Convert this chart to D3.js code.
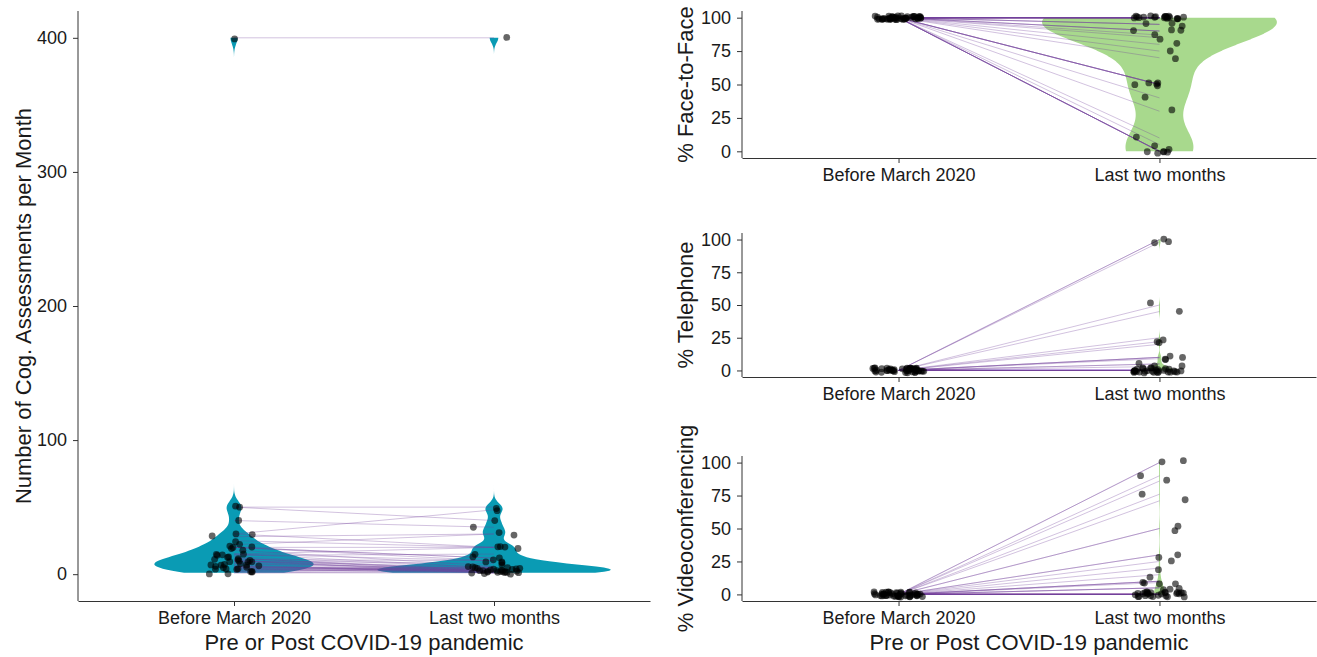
<!DOCTYPE html>
<html>
<head>
<meta charset="utf-8">
<script src="https://cdn.jsdelivr.net/npm/d3@7"></script>
<style>
  body { margin: 0; background: #fff; }
  svg { display: block; }
  text { font-family: "Liberation Sans", Arial, sans-serif; fill: #1a1a1a; }
</style>
</head>
<body>
<svg id="chart" width="1317" height="657"></svg>
<script>
// groups on the x axis
const groups = ['Before March 2020', 'Last two months'];

// cognitive assessments per month, one entry per clinician (paired)
const beforeCount = [400, 50, 50, 40, 30, 30, 28, 25, 22, 20, 20, 20, 20, 18, 15, 15, 15, 14, 13, 12, 12, 11, 10, 10, 10, 10, 10, 9, 8, 8, 7, 6, 6, 6, 5, 5, 5, 4, 4, 4, 3, 3, 2, 2, 1, 1];
const lastCount   = [400, 50, 40, 35, 48, 20, 30, 20, 30, 12, 20, 10, 12, 6, 10, 5, 20, 15, 5, 3, 2, 10, 4, 2, 5, 8, 1, 3, 2, 4, 1, 3, 2, 1, 5, 3, 2, 4, 1, 3, 2, 5, 4, 3, 2, 1];

// % face-to-face
const beforeF2F = [100, 100, 100, 100, 100, 100, 100, 100, 100, 100, 100, 100, 100, 100, 100, 100, 100, 100, 100, 100, 100, 100, 100, 100, 100, 100, 100, 100, 100, 100, 100, 100, 100, 100, 100, 100, 100, 100, 100, 100, 100, 100, 100, 100, 100, 100];
const lastF2F   = [100, 100, 0, 95, 50, 100, 0, 90, 100, 50, 75, 100, 0, 85, 100, 40, 100, 50, 0, 100, 90, 100, 30, 100, 95, 100, 70, 0, 100, 80, 50, 100, 87, 10, 100, 95, 0, 100, 90, 5, 100, 50, 100, 100, 100, 100];

// % telephone
const beforeTel = [0, 0, 0, 0, 0, 0, 0, 0, 0, 0, 0, 0, 0, 0, 0, 0, 0, 0, 0, 0, 0, 0, 0, 0, 0, 0, 0, 0, 0, 0, 0, 0, 0, 0, 0, 0, 0, 0, 0, 0, 0, 0, 0, 0, 0, 0];
const lastTel   = [0, 0, 100, 0, 50, 0, 0, 0, 0, 0, 10, 0, 98, 5, 0, 10, 0, 25, 22, 0, 10, 0, 0, 0, 5, 0, 0, 100, 0, 0, 20, 0, 3, 0, 0, 0, 0, 0, 0, 9, 0, 45, 0, 0, 0, 0];

// % videoconferencing
const beforeVid = [0, 0, 0, 0, 0, 0, 0, 0, 0, 0, 0, 0, 0, 0, 0, 0, 0, 0, 0, 0, 0, 0, 0, 0, 0, 0, 0, 0, 0, 0, 0, 0, 0, 0, 0, 0, 0, 0, 0, 0, 0, 0, 0, 0, 0, 0];
const lastVid   = [0, 0, 0, 5, 0, 0, 100, 10, 0, 50, 15, 0, 0, 10, 0, 50, 0, 25, 76, 0, 0, 0, 71, 0, 0, 0, 30, 0, 0, 20, 30, 0, 10, 90, 0, 5, 100, 0, 9, 86, 0, 5, 0, 0, 0, 0];

const countTicks = [0, 100, 200, 300, 400];
const pctTicks = [0, 25, 50, 75, 100];

const svg = d3.select('#chart');

// R's bw.nrd0
function bwNrd0(v) {
  const s = v.slice().sort(d3.ascending);
  const hi = d3.deviation(v) || 0;
  const iqr = d3.quantileSorted(s, 0.75) - d3.quantileSorted(s, 0.25);
  let lo = Math.min(hi, iqr / 1.34);
  if (!lo) lo = hi || Math.abs(v[0]) || 1;
  return 0.9 * lo * Math.pow(v.length, -0.2);
}

// gaussian kde over the data range (trimmed violin)
function density(v) {
  const bw = bwNrd0(v);
  const [lo, hi] = d3.extent(v);
  const out = [];
  for (let k = 0; k < 512; k++) {
    const t = lo + (hi - lo) * k / 511;
    const d = d3.sum(v, x => Math.exp(-0.5 * ((t - x) / bw) ** 2)) / (v.length * bw * Math.sqrt(2 * Math.PI));
    out.push({ t, d });
  }
  return out;
}

function mulberry32(a) {
  return function () {
    a |= 0; a = a + 0x6D2B79F5 | 0;
    let t = Math.imul(a ^ a >>> 15, 1 | a);
    t = t + Math.imul(t ^ t >>> 7, 61 | t) ^ t;
    return ((t ^ t >>> 14) >>> 0) / 4294967296;
  };
}

function drawPanel(o) {
  const x = d3.scaleLinear().domain([0.4, 2.6]).range([o.left, o.right]);
  const y = d3.scaleLinear().domain(o.domain).range([o.bottom, o.top]);
  const g = svg.append('g');
  const series = [o.before, o.last];

  // violins, scale = "area" across the two groups
  const dens = series.map(density);
  const maxD = d3.max(dens, d => d3.max(d, p => p.d));
  dens.forEach((d, i) => {
    if (d[0].t === d[d.length - 1].t) return; // constant group, nothing to draw
    const c = i + 1;
    const area = d3.area()
      .y(p => y(p.t))
      .x0(p => x(c - 0.45 * p.d / maxD))
      .x1(p => x(c + 0.45 * p.d / maxD));
    g.append('path').datum(d).attr('d', area).attr('fill', o.fill);
  });

  // paired lines
  g.append('g').selectAll('line').data(o.before).join('line')
    .attr('x1', x(1)).attr('y1', d => y(d))
    .attr('x2', x(2)).attr('y2', (d, i) => y(o.last[i]))
    .attr('stroke', '#74409a').attr('stroke-opacity', 0.32).attr('stroke-width', 1);

  // jittered points
  const rnd = mulberry32(o.seed);
  series.forEach((vals, i) => {
    g.append('g').selectAll('circle').data(vals).join('circle')
      .attr('cx', () => x(i + 1 + (rnd() * 2 - 1) * 0.1))
      .attr('cy', d => y(d + (rnd() * 2 - 1) * o.jh))
      .attr('r', 3.4)
      .attr('fill', '#000').attr('fill-opacity', 0.6);
  });

  // axes
  const ya = g.append('g').attr('transform', `translate(${o.left},0)`)
    .call(d3.axisLeft(y).tickValues(o.ticks).tickSize(5).tickSizeOuter(0).tickPadding(6));
  ya.select('.domain').attr('d', `M0,${o.top}V${o.bottom}`);
  g.append('g').attr('transform', `translate(0,${o.bottom})`)
    .call(d3.axisBottom(x).tickValues([1, 2]).tickFormat(v => groups[v - 1]).tickSize(5).tickSizeOuter(0).tickPadding(5));
  g.selectAll('.domain, .tick line').attr('stroke', '#333');
  g.selectAll('.tick text').style('font-size', '18px').attr('fill', '#1a1a1a');

  g.append('text')
    .attr('transform', `translate(${o.titleX},${(o.top + o.bottom) / 2}) rotate(-90)`)
    .attr('text-anchor', 'middle').style('font-size', '22px').text(o.yTitle);
  if (o.xTitle) {
    g.append('text').attr('x', (o.left + o.right) / 2).attr('y', 650)
      .attr('text-anchor', 'middle').style('font-size', '22px').text(o.xTitle);
  }
}

drawPanel({ left: 78, right: 650, top: 11, bottom: 601, domain: [-20, 420], ticks: countTicks,
  before: beforeCount, last: lastCount, fill: '#0a9bb4', seed: 11, jh: 1,
  yTitle: 'Number of Cog. Assessments per Month', titleX: 31, xTitle: 'Pre or Post COVID-19 pandemic' });

drawPanel({ left: 742, right: 1316, top: 11, bottom: 158, domain: [-5, 105], ticks: pctTicks,
  before: beforeF2F, last: lastF2F, fill: '#a8d98d', seed: 21, jh: 1.5,
  yTitle: '% Face-to-Face', titleX: 693 });

drawPanel({ left: 742, right: 1316, top: 233, bottom: 377, domain: [-5, 105], ticks: pctTicks,
  before: beforeTel, last: lastTel, fill: '#a8d98d', seed: 31, jh: 2,
  yTitle: '% Telephone', titleX: 693 });

drawPanel({ left: 742, right: 1316, top: 456, bottom: 601, domain: [-5, 105], ticks: pctTicks,
  before: beforeVid, last: lastVid, fill: '#a8d98d', seed: 41, jh: 2,
  yTitle: '% Videoconferencing', titleX: 693, xTitle: 'Pre or Post COVID-19 pandemic' });
</script>
</body>
</html>
